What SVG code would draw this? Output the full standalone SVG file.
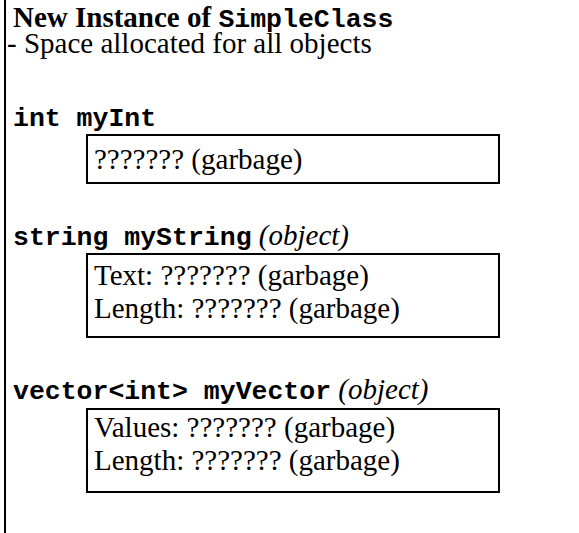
<svg xmlns="http://www.w3.org/2000/svg" width="579" height="533" viewBox="0 0 579 533">
  <style>
    .serif { font-family: "Liberation Serif", "Times New Roman", serif; font-size: 29px; fill: #000; }
    .bold { font-weight: bold; }
    .ital { font-style: italic; }
    .mono { font-family: "Liberation Mono", "Courier New", monospace; font-size: 26.5px; font-weight: bold; fill: #000; }
    .box { fill: #fff; stroke: #000; stroke-width: 2; }
  </style>
  <rect x="0" y="0" width="579" height="533" fill="#fff"/>
  <g id="frame">
    <line x1="5" y1="0" x2="5" y2="533" stroke="#000" stroke-width="2"/>
  </g>
  <g id="title">
    <text x="13" y="27" class="serif bold">New Instance of <tspan class="mono">SimpleClass</tspan></text>
    <text x="7" y="53" class="serif">- Space allocated for all objects</text>
  </g>
  <g id="myInt">
    <text x="13" y="126" class="mono">int myInt</text>
    <rect x="87" y="135" width="412" height="48" class="box"/>
    <text x="94" y="169" class="serif">??????? (garbage)</text>
  </g>
  <g id="myString">
    <text x="13" y="245" class="mono">string myString<tspan class="serif ital" font-weight="normal"> (object)</tspan></text>
    <rect x="87" y="254" width="412" height="83" class="box"/>
    <text x="94" y="285" class="serif">Text: ??????? (garbage)</text>
    <text x="94" y="318" class="serif">Length: ??????? (garbage)</text>
  </g>
  <g id="myVector">
    <text x="13" y="399" class="mono">vector&lt;int&gt; myVector<tspan class="serif ital" font-weight="normal"> (object)</tspan></text>
    <rect x="87" y="409" width="412" height="83" class="box"/>
    <text x="94" y="437" class="serif">Values: ??????? (garbage)</text>
    <text x="94" y="470" class="serif">Length: ??????? (garbage)</text>
  </g>
</svg>
